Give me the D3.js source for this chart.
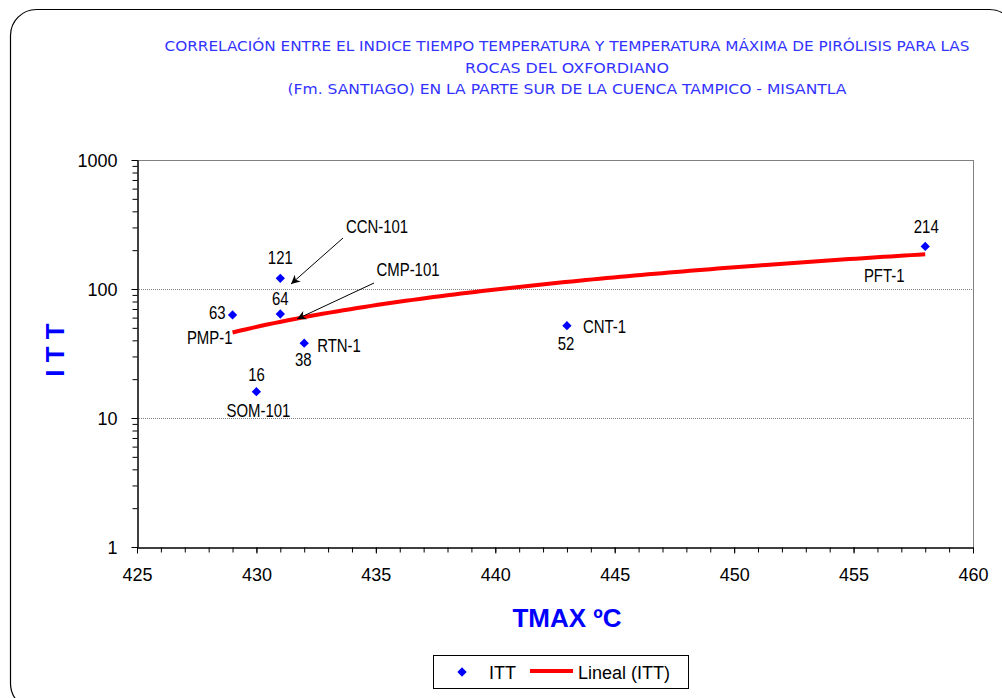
<!DOCTYPE html>
<html><head><meta charset="utf-8">
<script src="https://cdn.jsdelivr.net/npm/d3@7"></script>
<style>body{margin:0;background:#fff;}svg{display:block;}</style>
</head><body>
<svg id="chart" width="1002" height="698"></svg>
<script>
const titleLines = [
  "CORRELACIÓN ENTRE EL INDICE TIEMPO TEMPERATURA Y TEMPERATURA MÁXIMA  DE PIRÓLISIS PARA LAS",
  "ROCAS DEL OXFORDIANO",
  "(Fm. SANTIAGO)  EN LA PARTE SUR DE LA CUENCA TAMPICO - MISANTLA"
];
const wells = ["PMP-1", "CMP-101", "CCN-101", "RTN-1", "SOM-101", "CNT-1", "PFT-1"];
const tmax  = [429, 431, 431, 432, 430, 443, 458];
const itt   = [63, 64, 121, 38, 16, 52, 214];
const xTicks = [425, 430, 435, 440, 445, 450, 455, 460];
const yTicks = [1, 10, 100, 1000];
const xTitle = "TMAX ºC";
const yTitle = "I T T";
const legendLabels = ["ITT", "Lineal (ITT)"];

const svg = d3.select("#chart");
const L = 137, R = 973, T = 160, B = 547;
const x = d3.scaleLinear().domain([425, 460]).range([L, R]);
const y = d3.scaleLog().domain([1, 1000]).range([B, T]);
const sans = "Liberation Sans, Arial, sans-serif";

// outer rounded border
svg.append("rect").attr("x", 10.5).attr("y", 9.5).attr("width", 1005).attr("height", 700)
  .attr("rx", 26).attr("ry", 26).attr("fill", "none").attr("stroke", "#000").attr("stroke-width", 1.2);

// title
const tWidths = [805, 204, 559];
titleLines.forEach((t, i) => {
  svg.append("text").attr("x", 567).attr("y", 51 + i * 21.5)
    .attr("text-anchor", "middle").attr("font-family", "DejaVu Sans, sans-serif")
    .attr("font-size", 14.5).attr("fill", "#3333ff")
    .attr("textLength", tWidths[i]).attr("lengthAdjust", "spacingAndGlyphs")
    .text(t);
});

// gridlines (dotted) at major y ticks
[10, 100].forEach(v => {
  svg.append("line").attr("x1", L).attr("x2", R).attr("y1", y(v) + 0.5).attr("y2", y(v) + 0.5)
    .attr("stroke", "#808080").attr("stroke-width", 1).attr("stroke-dasharray", "1,1");
});
// plot area border top/right
svg.append("line").attr("x1", L).attr("x2", R).attr("y1", T + 0.5).attr("y2", T + 0.5).attr("stroke", "#808080");
svg.append("line").attr("x1", R + 0.5).attr("x2", R + 0.5).attr("y1", T).attr("y2", B).attr("stroke", "#808080");

// x axis
const xMinor = d3.range(425, 461, 1);
const gx = svg.append("g").attr("transform", `translate(0,${B + 0.5})`);
gx.call(d3.axisBottom(x).tickValues(xMinor).tickSize(5).tickFormat("").tickSizeOuter(0));
gx.append("g").call(d3.axisBottom(x).tickValues(xTicks).tickSize(6).tickSizeOuter(0).tickPadding(15).tickFormat(d3.format("d")));
gx.selectAll("text").attr("font-family", sans).attr("font-size", 18).attr("fill", "#000");
gx.selectAll("path,line").attr("stroke", "#000");

// y axis
const yMinor = [];
for (let d = 1; d < 1000; d *= 10) for (let k = 1; k <= 9; k++) yMinor.push(d * k);
yMinor.push(1000);
const gy = svg.append("g").attr("transform", `translate(${L + 0.5},0)`);
gy.call(d3.axisLeft(y).tickValues(yMinor).tickSize(5).tickFormat("").tickSizeOuter(0));
gy.append("g").call(d3.axisLeft(y).tickValues(yTicks).tickSize(6).tickSizeOuter(0).tickPadding(14).tickFormat(d3.format("d")));
gy.selectAll("text").attr("font-family", sans).attr("font-size", 18).attr("fill", "#000").attr("dy", "0.35em");
gy.selectAll("path,line").attr("stroke", "#000");

// linear regression trendline
const n = tmax.length;
const mx = d3.mean(tmax), my = d3.mean(itt);
let sxy = 0, sxx = 0;
for (let i = 0; i < n; i++) { sxy += (tmax[i] - mx) * (itt[i] - my); sxx += (tmax[i] - mx) ** 2; }
const slope = sxy / sxx, icpt = my - slope * mx;
const x0 = d3.min(tmax), x1 = d3.max(tmax);
const trend = d3.range(0, 101).map(i => { const xv = x0 + (x1 - x0) * i / 100; return [xv, icpt + slope * xv]; });
svg.append("path").datum(trend)
  .attr("d", d3.line().x(d => x(d[0])).y(d => y(d[1])))
  .attr("fill", "none").attr("stroke", "#ff0000").attr("stroke-width", 4);

// points
const diamond = d3.symbol().type(d3.symbolDiamond2).size(55);
svg.selectAll(".pt").data(tmax).enter().append("path")
  .attr("transform", (d, i) => `translate(${x(d)},${y(itt[i])})`)
  .attr("d", diamond).attr("fill", "#0000ff");

// condensed label helper
function label(px, py, anchor, txt) {
  svg.append("g").attr("transform", `translate(${px},${py}) scale(0.83,1)`)
    .append("text").attr("text-anchor", anchor).attr("font-family", sans)
    .attr("font-size", 18).attr("fill", "#000").text(txt);
}
// point labels offsets: [dx, dy(baseline), anchor]
const valOff  = [[-7, 4.5, "end"], [0, -9.5, "middle"], [0, -14, "middle"], [-1, 23, "middle"], [0, -10.5, "middle"], [-1, 24.5, "middle"], [1, -13, "middle"]];
const nameOff = [[0, 29, "end"], null, null, [13, 9, "start"], [2, 25, "middle"], [16, 7.5, "start"], [-41, 35.5, "middle"]];
tmax.forEach((d, i) => {
  const px = x(d), py = y(itt[i]);
  label(px + valOff[i][0], py + valOff[i][1], valOff[i][2], itt[i]);
  if (nameOff[i]) label(px + nameOff[i][0], py + nameOff[i][1], nameOff[i][2], wells[i]);
});

// callout labels with arrows
svg.append("defs").append("marker").attr("id", "ah").attr("viewBox", "0 0 10 10")
  .attr("refX", 10).attr("refY", 5).attr("markerWidth", 11).attr("markerHeight", 9)
  .attr("markerUnits", "userSpaceOnUse").attr("orient", "auto")
  .append("path").attr("d", "M0,0 L10,5 L0,10 L3,5 Z").attr("fill", "#000");
const callouts = [
  { i: 2, tx: 377, ty: 233, ax: 343, ay: 238, ex: 291, ey: 284 },
  { i: 1, tx: 408, ty: 276, ax: 374, ay: 283, ex: 297, ey: 319 }
];
callouts.forEach(c => {
  label(c.tx, c.ty, "middle", wells[c.i]);
  svg.append("line").attr("x1", c.ax).attr("y1", c.ay).attr("x2", c.ex).attr("y2", c.ey)
    .attr("stroke", "#000").attr("stroke-width", 1).attr("marker-end", "url(#ah)");
});

// axis titles
svg.append("text").attr("x", 567).attr("y", 627).attr("text-anchor", "middle")
  .attr("font-family", sans).attr("font-weight", "bold")
  .attr("font-size", 26).attr("fill", "#0000ff").text(xTitle);
svg.append("text").attr("transform", "translate(64,350) rotate(-90)").attr("text-anchor", "middle")
  .attr("font-family", sans).attr("font-weight", "bold")
  .attr("font-size", 26).attr("fill", "#0000ff").text(yTitle);

// legend
const lg = svg.append("g");
lg.append("rect").attr("x", 433.5).attr("y", 655.5).attr("width", 255).attr("height", 33)
  .attr("fill", "#fff").attr("stroke", "#000").attr("stroke-width", 1);
lg.append("path").attr("transform", "translate(462,672)").attr("d", diamond).attr("fill", "#0000ff");
lg.append("text").attr("x", 489).attr("y", 678.5).attr("font-family", sans)
  .attr("font-size", 18).attr("fill", "#000").text(legendLabels[0]);
lg.append("line").attr("x1", 530).attr("x2", 573).attr("y1", 671).attr("y2", 671)
  .attr("stroke", "#ff0000").attr("stroke-width", 4);
lg.append("text").attr("x", 578).attr("y", 678.5).attr("font-family", sans)
  .attr("font-size", 18).attr("fill", "#000").text(legendLabels[1]);
</script>
</body></html>
